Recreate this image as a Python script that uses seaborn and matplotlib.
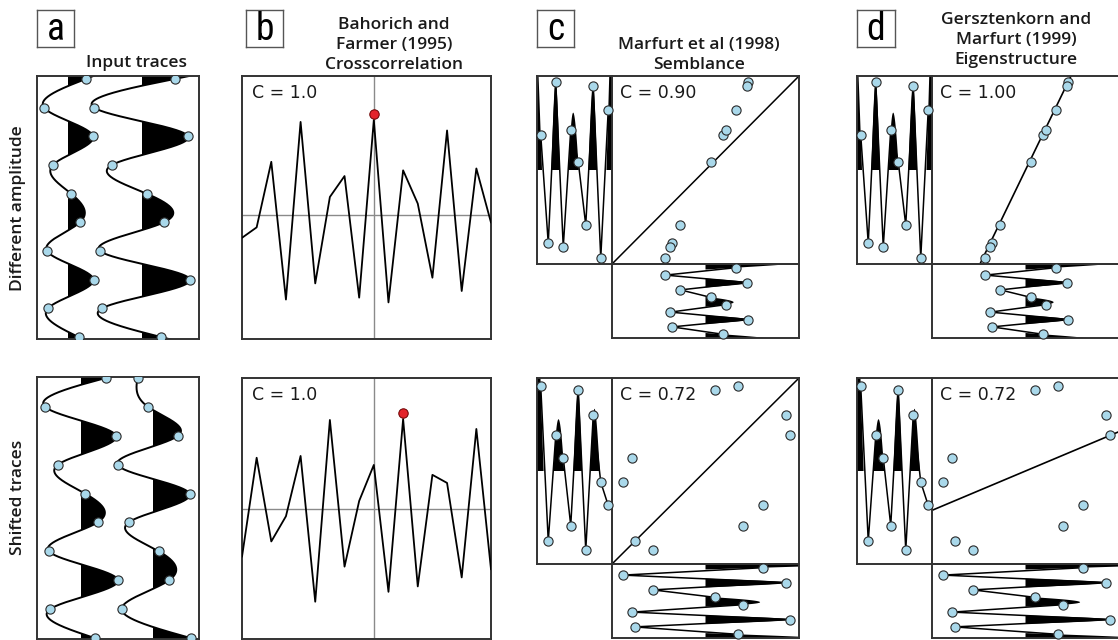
import numpy as np
import matplotlib
matplotlib.use("Agg")
import matplotlib.pyplot as plt
import seaborn as sns
from matplotlib import font_manager as fm
from matplotlib.transforms import offset_copy

# ---------------- data ----------------
# panel a: sample amplitudes of the two input traces (top -> bottom)
amp_trace1 = [18, -24, 25, -15, 3, 12, -21, 25.5, -20, 10.5]
amp_trace2 = [33, -48, 46, -30, 4.5, 22, -42, 48, -40, 19]
shift_trace1 = [25, -36, 35, -23, 4, 16.5, -32, 37, -31, 14]
shift_trace2 = [-15.5, -5, 25, -35.5, 36.5, -24.5, 6, 16, -31.5, 38]

# panel b: crosscorrelation against lag
lags = list(range(-9, 9))
xcorr_amp = [-0.24, -0.13, 0.56, -0.89, 0.98, -0.72, 0.19, 0.41, -0.87,
             1.0, -0.92, 0.47, 0.12, -0.66, 0.89, -0.80, 0.49, -0.08]
xcorr_shift = [-0.53, 0.57, -0.36, -0.08, 0.59, -1.03, 0.99, -0.64, 0.09,
               0.49, -0.92, 1.0, -0.86, 0.38, 0.29, -0.76, 0.89, -0.67]

coh_b = ["C = 1.0", "C = 1.0"]
coh_c = ["C = 0.90", "C = 0.72"]
coh_d = ["C = 1.00", "C = 0.72"]

letters = ["a", "b", "c", "d"]
title_a = "Input traces"
title_b = "Bahorich and\nFarmer (1995)\nCrosscorrelation"
title_c = "Marfurt et al (1998)\nSemblance"
title_d = "Gersztenkorn and\nMarfurt (1999)\nEigenstructure"
row_labels = ["Different amplitude", "Shifted traces"]

# ---------------- style ----------------
sns.set_theme(style="white")
names = {f.name for f in fm.fontManager.ttflist}
plt.rcParams["font.family"] = ["DejaVu Sans"]
title_font = "Open Sans" if "Open Sans" in names else "DejaVu Sans"
narrow = None
for cand in ["Roboto Condensed", "Liberation Sans Narrow", "Open Sans Condensed",
             "DejaVu Sans Condensed"]:
    if cand in names:
        narrow = cand
        break

W, H = 1118, 640
fig = plt.figure(figsize=(W / 100, H / 100), dpi=100)
fig.patch.set_facecolor("white")

DOT = "#a9d8ea"
EDGE = "#2b2b2b"
SPINE = "#333333"


def px_axes(x0, y0, x1, y1, zorder=1):
    ax = fig.add_axes([x0 / W, 1 - y1 / H, (x1 - x0) / W, (y1 - y0) / H])
    ax.set_xticks([])
    ax.set_yticks([])
    ax.patch.set_alpha(0)
    ax.set_zorder(zorder)
    for s in ax.spines.values():
        s.set_color(SPINE)
        s.set_linewidth(1.4)
        s.set_visible(True)
    return ax


def spline(y, t):
    y = np.asarray(y, float)
    n = len(y)
    A = np.zeros((n, n))
    r = np.zeros(n)
    A[0, 0] = A[-1, -1] = 1
    for i in range(1, n - 1):
        A[i, i - 1], A[i, i], A[i, i + 1] = 1, 4, 1
        r[i] = 6 * (y[i - 1] - 2 * y[i] + y[i + 1])
    M = np.linalg.solve(A, r)
    k = np.clip(np.floor(t).astype(int), 0, n - 2)
    u = t - k
    return ((1 - u) * y[k] + u * y[k + 1]
            + (((1 - u) ** 3 - (1 - u)) * M[k] + (u ** 3 - u) * M[k + 1]) / 6)


def clean(ax):
    ax.set_xlabel("")
    ax.set_ylabel("")
    ax.set_xticks([])
    ax.set_yticks([])
    if ax.get_legend() is not None:
        ax.get_legend().remove()


# ---------------- panel a ----------------
rows_y = [(76, 339), (377, 639)]
a_traces = [(amp_trace1, amp_trace2), (shift_trace1, shift_trace2)]
a_bases = [(31, 105), (44, 116)]
a_ylims = [(9.07, -0.1), (9.03, -0.03)]
for r in range(2):
    ax = px_axes(37, rows_y[r][0], 199, rows_y[r][1])
    tf = np.linspace(-0.2, 9.2, 900)
    ts = np.arange(10)
    for tr, base in zip(a_traces[r], a_bases[r]):
        s = spline(tr, tf)
        ax.fill_betweenx(tf, base, base + s, where=s > 0, interpolate=True,
                         color="black", lw=0)
        sns.lineplot(x=base + s, y=tf, sort=False, estimator=None, ax=ax,
                     color="black", lw=1.4)
        sns.scatterplot(x=base + np.asarray(tr), y=ts, ax=ax, s=44, color=DOT,
                        edgecolor=EDGE, linewidth=0.8, zorder=4)
    ax.set_xlim(0, 162)
    ax.set_ylim(*a_ylims[r])
    clean(ax)

# ---------------- panel b ----------------
b_rows = [(76, 339), (378, 639)]
b_ylims = [(-1.305, 1.463), (-1.444, 1.456)]
for r, xc in enumerate([xcorr_amp, xcorr_shift]):
    ax = px_axes(242, b_rows[r][0], 491, b_rows[r][1])
    ax.axhline(0, color="#8a8a8a", lw=1.0, zorder=1)
    ax.axvline(0, color="#8a8a8a", lw=1.0, zorder=1)
    sns.lineplot(x=lags, y=xc, ax=ax, color="black", lw=1.3, zorder=3)
    k = int(np.argmax(xc))
    tr = offset_copy(ax.transData, fig=fig, x=0, y=4.5, units="points")
    ax.plot([lags[k]], [xc[k]], "o", color="#e3242b", mec="#6a0000", mew=0.7,
            ms=6.8, transform=tr, zorder=5)
    ax.set_xlim(-9, 8)
    ax.set_ylim(*b_ylims[r])
    ax.text(0.04, 0.935, coh_b[r], transform=ax.transAxes, va="center",
            ha="left", fontsize=12.5, color="#1a1a1a")
    clean(ax)

# ---------------- panels c & d ----------------
cd_rows = [(76, 264, 338), (378, 564, 638)]
lims = [(56.0, 51.3), (40.9, 41.8)]     # (trace-1 axis, trace-2 axis)
for p, x0 in enumerate([537, 857]):
    for r in range(2):
        t1, t2 = a_traces[r]
        Bv = np.asarray(t1[::-1], float)
        Av = np.asarray(t2[::-1], float)
        blim, alim = lims[r]
        ytop, ymid, ybot = cd_rows[r]
        idx = np.arange(10)
        tf = np.linspace(-0.5, 9.5, 700)

        # left trace (time to the right)
        axl = px_axes(x0, ytop, x0 + 75, ymid, zorder=3)
        sA = spline(Av, tf)
        axl.fill_between(tf, 0, sA, where=sA > 0, interpolate=True,
                         color="black", lw=0)
        sns.lineplot(x=idx, y=Av, ax=axl, color="black", lw=1.1)
        sns.scatterplot(x=idx, y=Av, ax=axl, s=44, color=DOT, edgecolor=EDGE,
                        linewidth=0.8, zorder=5, clip_on=False)
        axl.set_xlim(-0.5, 9.5)
        axl.set_ylim(-alim, alim)
        clean(axl)

        # cross-plot
        axs = px_axes(x0 + 75, ytop, x0 + 262, ymid, zorder=2)
        if p == 0:
            axs.plot([0, 1], [0, 1], transform=axs.transAxes, color="black",
                     lw=1.1, zorder=2)
            label = coh_c[r]
        else:
            k = int(np.argmax(Bv))
            axs.axline((0, 0), slope=Av[k] / Bv[k], color="black", lw=1.2,
                       zorder=2)
            label = coh_d[r]
        sns.scatterplot(x=Bv, y=Av, ax=axs, s=44, color=DOT, edgecolor=EDGE,
                        linewidth=0.8, zorder=5, clip_on=False)
        axs.set_xlim(-blim, blim)
        axs.set_ylim(-alim, alim)
        axs.text(0.045, 0.91, label, transform=axs.transAxes, va="center",
                 ha="left", fontsize=12.5, color="#1a1a1a")
        clean(axs)

        # bottom trace (time upward)
        axb = px_axes(x0 + 75, ymid, x0 + 262, ybot, zorder=3)
        sB = spline(Bv, tf)
        axb.fill_betweenx(tf, 0, sB, where=sB > 0, interpolate=True,
                          color="black", lw=0)
        sns.lineplot(x=Bv, y=idx, ax=axb, sort=False, estimator=None,
                     color="black", lw=1.1)
        sns.scatterplot(x=Bv, y=idx, ax=axb, s=44, color=DOT, edgecolor=EDGE,
                        linewidth=0.8, zorder=5, clip_on=False)
        axb.set_xlim(-blim, blim)
        axb.set_ylim(-0.5, 9.5)
        clean(axb)

# ---------------- letters, titles, row labels ----------------
letter_boxes = [(37, 10, 74, 47), (246, 10, 283, 47), (537, 10, 574, 47),
                (857, 10, 895, 47)]
for lt, (bx0, by0, bx1, by1) in zip(letters, letter_boxes):
    axk = px_axes(bx0, by0, bx1, by1)
    for s in axk.spines.values():
        s.set_color("#555555")
        s.set_linewidth(1.0)
    kw = dict(family=narrow) if narrow else dict(family="DejaVu Sans",
                                                  fontstretch="condensed")
    axk.text(0.5, 0.46, lt, transform=axk.transAxes, ha="center", va="center",
             fontsize=27, color="black", **kw)

tkw = dict(ha="center", va="center", fontsize=12.5, family=title_font,
           fontweight="semibold", color="#1a1a1a", linespacing=1.37)
fig.text(137 / W, 1 - 63 / H, title_a, **tkw)
fig.text(394 / W, 1 - 45 / H, title_b, **tkw)
fig.text(699 / W, 1 - 55 / H, title_c, **tkw)
fig.text(1016 / W, 1 - 40 / H, title_d, **tkw)

fig.text(18 / W, 1 - 208 / H, row_labels[0], rotation=90, **tkw)
fig.text(18 / W, 1 - 497 / H, row_labels[1], rotation=90, **tkw)

fig.savefig("out.png", dpi=100, facecolor="white")
